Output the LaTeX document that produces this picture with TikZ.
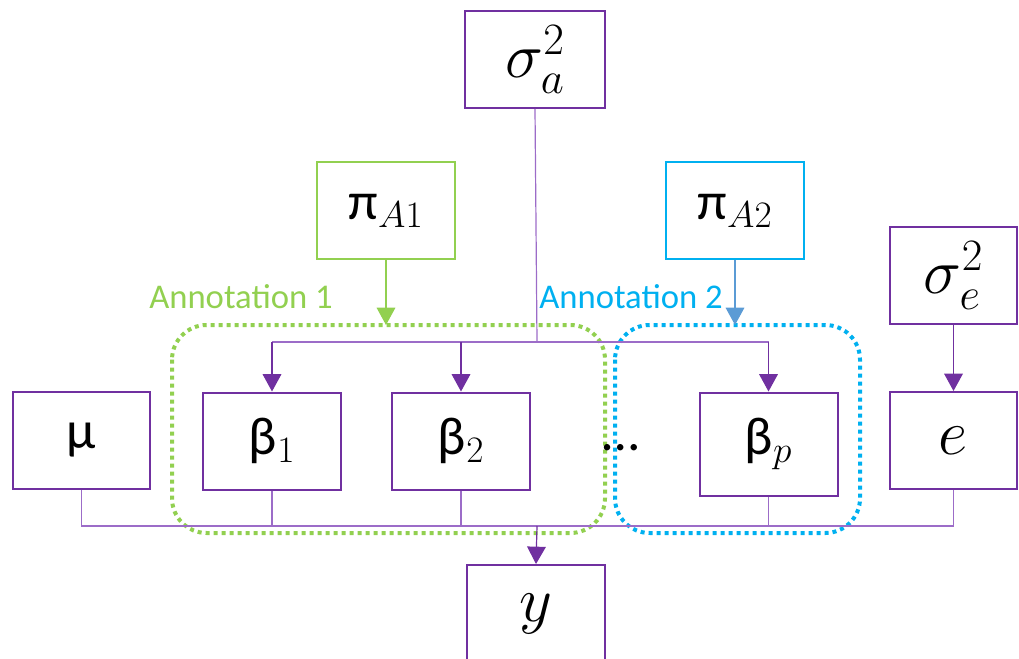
\documentclass[tikz,border=0pt]{standalone}
\usepackage{fix-cm}
\usepackage{fontspec}
\setmainfont{Carlito}
\usetikzlibrary{arrows.meta}
\definecolor{pur}{HTML}{7030A0}
\definecolor{conncol}{HTML}{9C6CC8}
\definecolor{grn}{HTML}{92D050}
\definecolor{blu}{HTML}{00B0F0}
\definecolor{blua}{HTML}{5B9BD5}
\begin{document}
\begin{tikzpicture}[x=0.75pt,y=-0.75pt,
  box/.style={draw=pur, line width=1.5pt, fill=white, minimum width=103.5pt, minimum height=72.75pt, inner sep=0pt, font=\fontsize{40}{48}\selectfont},
  mbox/.style={box, font=\fontsize{48}{56}\selectfont},
  conn/.style={draw=conncol, line width=0.9pt},
  arr/.style={-{Triangle[width=14pt,length=13pt]}},
  grp/.style={line width=3pt, dash pattern=on 3pt off 3pt, rounded corners=26pt},
  lab/.style={font=\fontsize{26}{30}\selectfont, inner sep=0pt}]
\useasboundingbox (0,0) rectangle (1019,659);
% annotation groups
\draw[grp, draw=grn] (172,325) rectangle (605,533);
\draw[grp, draw=blu] (615,325) rectangle (860,533);
\node[lab, text=grn] (a1) at (241,297) {Annotation 1};
\node[lab, text=blu] (a2) at (631,297) {Annotation 2};
% nodes
\node[mbox, minimum width=105pt] (sa) at (535,59.5) {$\sigma_a^2$};
\node[box, draw=grn] (pa1) at (386,210.5) {π$_{A1}$};
\node[box, draw=blu] (pa2) at (735,210.5) {π$_{A2}$};
\node[mbox, minimum width=95.25pt] (se) at (953.5,275.5) {$\sigma_e^2$};
\node[box, minimum width=102.75pt] (mu) at (81.5,440.5) {μ};
\node[box] (b1) at (272,441) {β$_1$};
\node[box] (b2) at (461,441) {β$_2$};
\node[box, minimum height=77.25pt] (bp) at (768.5,444) {β$_p$};
\node[mbox, minimum width=95.25pt] (e) at (953.5,440.5) {$e$};
\node[mbox] (y) at (536,613.5) {$y$};
\node[font=\fontsize{40}{48}\selectfont, inner sep=0pt] (dots) at (621,448) {…};
% coordinates
\coordinate (tb) at (537,342);
\coordinate (bb) at (537,526);
% top connectors
\draw[conn] (sa.south) -- (tb);
\draw[conn] (b1.north |- tb) -- (bp.north |- tb);
\draw[conn, arr, pur] (b1.north |- tb) -- (b1.north);
\draw[conn, arr, pur] (b2.north |- tb) -- (b2.north);
\draw[conn, arr, pur] (bp.north |- tb) -- (bp.north);
\draw[conn, arr, draw=pur, fill=pur] (se.south) -- (e.north);
\draw[line width=0.9pt, draw=grn, fill=grn, arr] (pa1.south) -- (pa1.south |- 0,325);
\draw[line width=0.9pt, draw=blua, fill=blua, arr] (pa2.south) -- (pa2.south |- 0,325);
% bottom connectors
\draw[conn] (mu.south) -- (mu.south |- bb) -- (e.south |- bb) -- (e.south);
\draw[conn] (b1.south) -- (b1.south |- bb);
\draw[conn] (b2.south) -- (b2.south |- bb);
\draw[conn] (bp.south) -- (bp.south |- bb);
\draw[conn, arr, pur] (bb) -- (y.north);
\end{tikzpicture}
\end{document}
